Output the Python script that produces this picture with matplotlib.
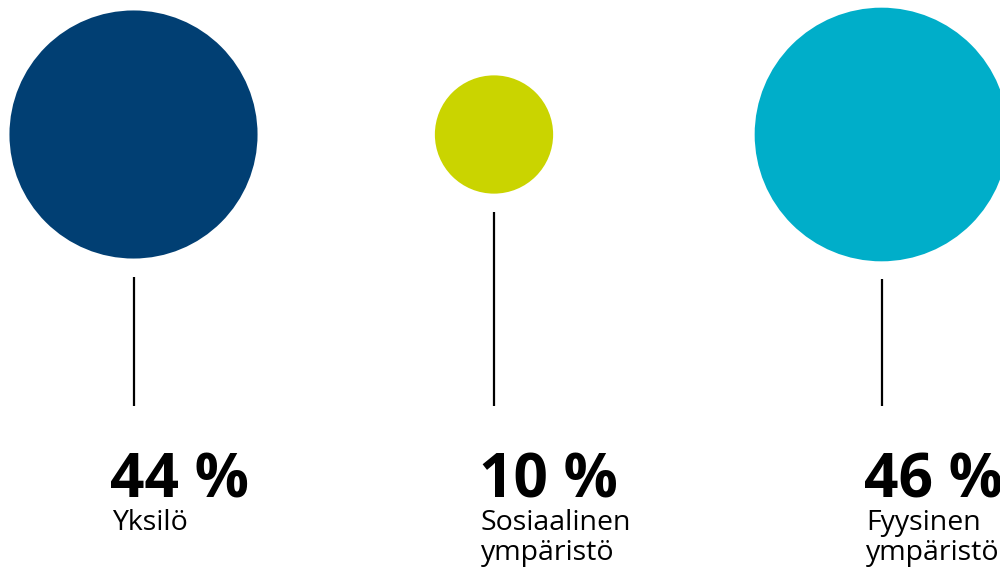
import numpy as np
import matplotlib
matplotlib.use("Agg")
import matplotlib.pyplot as plt
from matplotlib.patches import Circle

# share of factors (area of each circle ~ value)
values = [44, 10, 46]
labels = ["Yksilö", "Sosiaalinen\nympäristö", "Fyysinen\nympäristö"]
colors = ["#013f73", "#cad400", "#00aec9"]

# layout in pixel space
centers_x = [133.5, 494, 881.5]
center_y = 134.5
text_x = [112, 481, 866]
scale = 18.7          # px radius per sqrt(percent)
line_gap = 18
line_bottom = 406

fig = plt.figure(figsize=(10, 5.75), dpi=100)
ax = fig.add_axes([0, 0, 1, 1])
ax.set_xlim(0, 1000)
ax.set_ylim(575, 0)
ax.set_aspect("equal")
ax.axis("off")

font = "Open Sans"
for v, lab, col, cx, tx in zip(values, labels, colors, centers_x, text_x):
    r = scale * np.sqrt(v)
    ax.add_patch(Circle((cx, center_y), r, color=col, lw=0))
    ax.plot([cx, cx], [center_y + r + line_gap, line_bottom],
            color="black", lw=1.6, solid_capstyle="butt")
    ax.text(tx - 2, 497, f"{v} %", fontsize=43.5, fontweight="bold",
            family=font, ha="left", va="baseline")
    ax.text(tx, 509, lab, fontsize=20.5, family=font, ha="left", va="top",
            linespacing=1.08)

fig.savefig("out.png", dpi=100)
